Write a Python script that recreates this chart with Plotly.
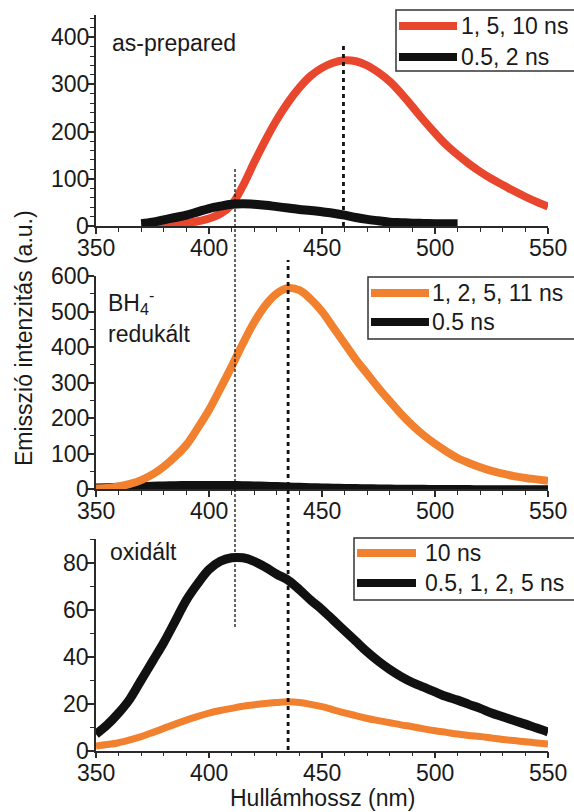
import plotly.graph_objects as go

# ---- emission spectra (wavelength in nm, intensity in a.u.) ----
# as-prepared
wl_ap_long = [370, 375, 380, 385, 390, 395, 400, 405, 410, 415, 420, 425, 430, 435, 440,
              445, 450, 455, 460, 465, 470, 475, 480, 485, 490, 495, 500, 505, 510, 515,
              520, 525, 530, 535, 540, 545, 550]
int_ap_long = [0, 0.5, 1.5, 3, 6, 10, 16, 26, 45, 85, 135, 182, 225, 262, 293,
               318, 335, 346, 351, 349, 340, 325, 306, 281, 253, 224, 197, 172, 151, 132,
               115, 100, 87, 74, 62, 51, 41]
wl_ap_short = [370, 375, 380, 385, 390, 395, 400, 405, 410, 415, 420, 425, 430, 435, 440,
               445, 450, 455, 460, 465, 470, 475, 480, 485, 490, 495, 500, 505, 510]
int_ap_short = [5, 8, 13, 18, 23, 30, 37, 42, 46, 47, 46, 44, 41, 38, 35,
                33, 30, 27, 23, 18, 14, 11, 8, 7, 6, 5.5, 5, 5, 5]

# BH4- reduced
wl_red = [350, 355, 360, 365, 370, 375, 380, 385, 390, 395, 400, 405, 410, 415, 420,
          425, 430, 435, 440, 445, 450, 455, 460, 465, 470, 475, 480, 485, 490, 495,
          500, 505, 510, 515, 520, 525, 530, 535, 540, 545, 550]
int_red_long = [2, 4, 8, 15, 26, 42, 64, 92, 125, 172, 223, 283, 345, 410, 470,
                518, 551, 566, 560, 535, 500, 455, 410, 365, 325, 285, 248, 212, 180, 152,
                128, 107, 88, 74, 62, 52, 44, 37, 32, 28, 24]
int_red_short = [5, 6, 7, 8, 9, 10, 11, 11.5, 12, 12, 12, 12, 12, 11.5, 11,
                 10, 9, 8, 7, 6, 5, 4.5, 4, 3.5, 3, 2.5, 2, 1.7, 1.5, 1.2,
                 1, 0.8, 0.6, 0.5, 0.4, 0.3, 0.2, 0.1, 0, 0, 0]

# oxidised
wl_ox = [350, 355, 360, 365, 370, 375, 380, 385, 390, 395, 400, 405, 410, 415, 420,
         425, 430, 435, 440, 445, 450, 455, 460, 465, 470, 475, 480, 485, 490, 495,
         500, 505, 510, 515, 520, 525, 530, 535, 540, 545, 550]
int_ox_short = [7, 11, 16, 22, 30, 38, 46, 55, 64, 71, 77, 80.5, 82, 82, 80.5,
                78, 75, 72.5, 68.5, 64, 60, 55.5, 51, 46.5, 42, 38, 34.5, 31.5, 29, 27,
                25, 23, 21.5, 19.7, 18, 16, 14.4, 12.8, 11.3, 9.6, 8]
int_ox_long = [2, 2.6, 3.4, 4.6, 6, 7.7, 9.5, 11.3, 13, 14.6, 16, 17.1, 18, 18.9, 19.5,
               20.1, 20.5, 20.8, 20.5, 19.7, 18.7, 17.4, 16.1, 14.9, 13.7, 12.8, 11.9, 11, 10.2, 9.3,
               8.5, 7.8, 7.1, 6.5, 6, 5.4, 4.8, 4.3, 3.8, 3.3, 2.8]

# legend entries per panel
legend_ap = ["1, 5, 10 ns", "0.5, 2 ns"]
legend_red = ["1, 2, 5, 11 ns", "0.5 ns"]
legend_ox = ["10 ns", "0.5, 1, 2, 5 ns"]

# peak positions marked by vertical guide lines (nm)
peak_short = 411.5
peak_ap = 459.5
peak_red = 435.0

# tick values
x_ticks = [350, 400, 450, 500, 550]
y_ticks_ap = [0, 100, 200, 300, 400]
y_ticks_red = [0, 100, 200, 300, 400, 500, 600]
y_ticks_ox = [0, 20, 40, 60, 80]

RED = "#E9472D"
ORANGE = "#F2812F"
BLACK = "#111111"
AXIS = "#2a2a2a"
TXT = "#1a1a1a"
FONT = "Arial, 'Liberation Sans', sans-serif"
FS = 23

W, H = 574, 812
ML, MR, MT, MB = 96, 26, 15, 61
PW = W - ML - MR
PH = H - MT - MB


def px_x(x):
    return (x - ML) / PW


def px_y(y):
    return (H - MB - y) / PH


fig = go.Figure()

# panel 1 (top)
fig.add_trace(go.Scatter(x=wl_ap_long, y=int_ap_long, mode="lines", line=dict(color=RED, width=8, shape="spline"),
                         xaxis="x", yaxis="y", showlegend=False))
fig.add_trace(go.Scatter(x=wl_ap_short, y=int_ap_short, mode="lines", line=dict(color=BLACK, width=9, shape="spline"),
                         xaxis="x", yaxis="y", showlegend=False))
# panel 2
fig.add_trace(go.Scatter(x=wl_red, y=int_red_short, mode="lines", line=dict(color=BLACK, width=8, shape="spline"),
                         xaxis="x2", yaxis="y2", showlegend=False))
fig.add_trace(go.Scatter(x=wl_red, y=int_red_long, mode="lines", line=dict(color=ORANGE, width=8, shape="spline"),
                         xaxis="x2", yaxis="y2", showlegend=False))
# panel 3
fig.add_trace(go.Scatter(x=wl_ox, y=int_ox_long, mode="lines", line=dict(color=ORANGE, width=7, shape="spline"),
                         xaxis="x3", yaxis="y3", showlegend=False))
fig.add_trace(go.Scatter(x=wl_ox, y=int_ox_short, mode="lines", line=dict(color=BLACK, width=9, shape="spline"),
                         xaxis="x3", yaxis="y3", showlegend=False))


def xaxis_cfg(anchor):
    return dict(domain=[0, 1], anchor=anchor, range=[350, 550], tickvals=x_ticks,
                showline=True, linecolor=AXIS, linewidth=1.5, mirror=False,
                ticks="outside", ticklen=6, tickwidth=1.5, tickcolor=AXIS,
                showticklabels=False,
                minor=dict(dtick=10, ticks="outside", ticklen=4, tickwidth=1.2, tickcolor=AXIS),
                showgrid=False, zeroline=False)


def yaxis_cfg(anchor, dom, rng, ticks, minor):
    return dict(domain=dom, anchor=anchor, range=rng, tickvals=ticks,
                showline=True, linecolor=AXIS, linewidth=1.5,
                ticks="outside", ticklen=7, tickwidth=1.5, tickcolor=AXIS,
                showticklabels=False,
                minor=dict(dtick=minor, tick0=0, ticks="outside", ticklen=4, tickwidth=1.2, tickcolor=AXIS),
                showgrid=False, zeroline=False)


# vertical pixel extents of the three panels (top, bottom)
panels = [(15, 226), (276, 489.3), (539, 750.7)]

fig.update_layout(
    width=W, height=H,
    margin=dict(l=ML, r=MR, t=MT, b=MB),
    paper_bgcolor="white", plot_bgcolor="white",
    showlegend=False,
    xaxis=xaxis_cfg("y"),
    xaxis2=xaxis_cfg("y2"),
    xaxis3=xaxis_cfg("y3"),
    yaxis=yaxis_cfg("x", [px_y(226), px_y(15)], [0, 447], y_ticks_ap, 20),
    yaxis2=yaxis_cfg("x2", [px_y(489.3), px_y(276)], [0, 600], y_ticks_red, 50),
    yaxis3=yaxis_cfg("x3", [max(0, px_y(750.7)), px_y(539)], [0, 90], y_ticks_ox, 10),
    font=dict(family=FONT, size=FS, color=TXT),
)

shapes = []
annotations = []

# tick labels placed next to the axes
for (top, bot), yref, yticks in zip(panels, ["y", "y2", "y3"], [y_ticks_ap, y_ticks_red, y_ticks_ox]):
    for xv in x_ticks:
        annotations.append(dict(text=str(xv), xref="x", yref="paper", x=xv, y=px_y(bot + 22),
                                xanchor="center", yanchor="middle", showarrow=False,
                                font=dict(family=FONT, size=FS, color=TXT)))
    for yv in yticks:
        annotations.append(dict(text=str(yv), xref="paper", yref=yref, x=px_x(91), y=yv,
                                xanchor="right", yanchor="middle", showarrow=False,
                                font=dict(family=FONT, size=FS, color=TXT)))

# vertical guide lines at peak positions
shapes.append(dict(type="line", xref="x", yref="paper", x0=peak_short, x1=peak_short,
                   y0=px_y(627), y1=px_y(168), line=dict(color=BLACK, width=1.3, dash="3px,2px")))
shapes.append(dict(type="line", xref="x", yref="paper", x0=peak_ap, x1=peak_ap,
                   y0=px_y(226), y1=px_y(45), line=dict(color=BLACK, width=2.8, dash="4px,4px")))
shapes.append(dict(type="line", xref="x", yref="paper", x0=peak_red, x1=peak_red,
                   y0=px_y(750), y1=px_y(260), line=dict(color=BLACK, width=2.8, dash="4px,4px")))


def legend_box(x0, y0, y1, s0, s1, row_y, colors, labels, tx):
    shapes.append(dict(type="rect", xref="paper", yref="paper", x0=px_x(x0), x1=px_x(W + 2),
                       y0=px_y(y1), y1=px_y(y0), line=dict(color="#333333", width=1.5),
                       fillcolor="white", layer="above"))
    for ry, c, lab in zip(row_y, colors, labels):
        shapes.append(dict(type="line", xref="paper", yref="paper", x0=px_x(s0), x1=px_x(s1),
                           y0=px_y(ry), y1=px_y(ry), line=dict(color=c, width=8)))
        annotations.append(dict(text=lab, xref="paper", yref="paper", x=px_x(tx), y=px_y(ry),
                                xanchor="left", yanchor="middle", showarrow=False,
                                font=dict(family=FONT, size=FS, color=TXT)))


legend_box(396, 10, 71, 399, 457, [26, 57], [RED, BLACK], legend_ap, 459)
legend_box(368, 277, 339, 371, 429, [293, 322], [ORANGE, BLACK], legend_red, 430)
legend_box(354, 538, 600, 357, 416, [553, 583], [ORANGE, BLACK], legend_ox, 423)


def label(text, x, y):
    annotations.append(dict(text=text, xref="paper", yref="paper", x=px_x(x), y=px_y(y),
                            xanchor="left", yanchor="middle", showarrow=False,
                            font=dict(family=FONT, size=FS, color=TXT)))


label("as-prepared", 110, 43)
label("BH<sub>4</sub><sup>-</sup>", 106, 302)
label("redukált", 106, 334)
label("oxidált", 108, 552)

# shared axis titles
annotations.append(dict(text="Hullámhossz (nm)", xref="paper", yref="paper", x=px_x(322), y=px_y(798),
                        xanchor="center", yanchor="middle", showarrow=False,
                        font=dict(family=FONT, size=FS, color=TXT)))
annotations.append(dict(text="Emisszió intenzitás (a.u.)", xref="paper", yref="paper", x=px_x(24), y=px_y(338),
                        xanchor="center", yanchor="middle", textangle=-90, showarrow=False,
                        font=dict(family=FONT, size=FS, color=TXT)))

fig.update_layout(shapes=shapes, annotations=annotations)
fig.write_html("out.html")
